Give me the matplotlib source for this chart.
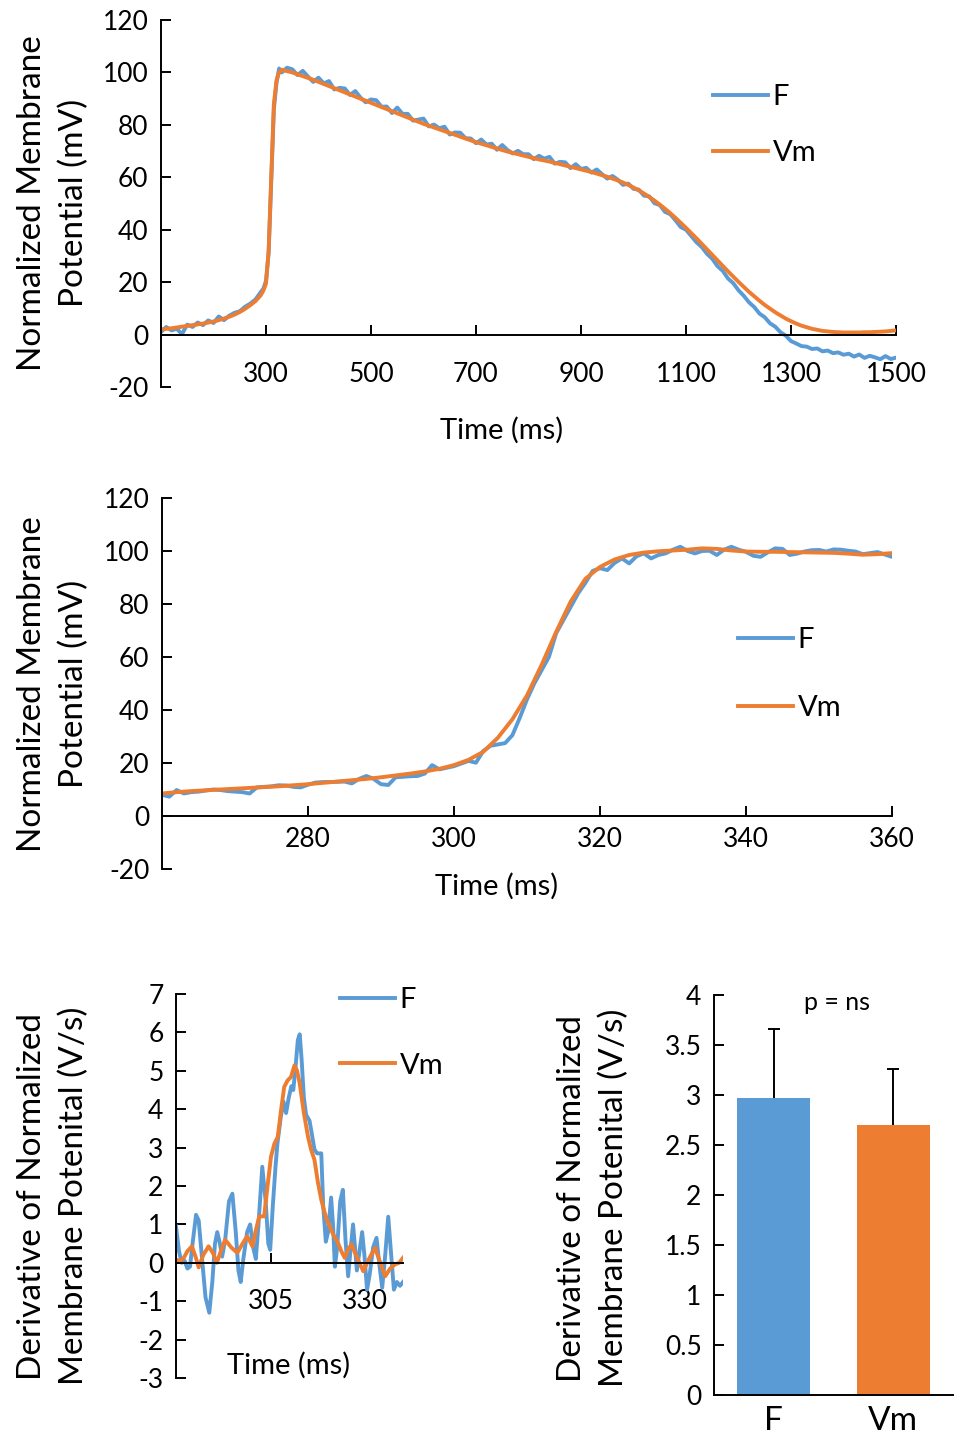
import matplotlib
matplotlib.use('Agg')
import matplotlib.pyplot as plt

plt.rcParams['font.family'] = ['Lato', 'DejaVu Sans']
plt.rcParams['axes.unicode_minus'] = False

BLUE = '#5B9BD5'
ORANGE = '#ED7D31'
FS_TICK = 19
FS_LAB = 21
FS_LEG = 21
FS_YLAB = 24
LW = 2.8

# ---------------- Panel A: full action potential ----------------
t_full = list(range(100, 300, 10)) + [295, 300, 305, 310, 315, 320, 325, 330, 340] + list(range(350, 1510, 10))

vm_full = [2.0, 2.2, 2.4, 2.7, 3.0, 3.3, 3.6, 3.9, 4.2, 4.6,
           5.0, 5.5, 6.1, 6.8, 7.6, 8.6, 9.8, 11.2, 12.8, 15.0,
           16.8, 19.5, 32, 60, 88, 97, 100, 101, 100.5,
           100.0, 99.3, 98.6, 97.9, 97.2, 96.4,
           95.6, 94.8, 94.0, 93.2, 92.4, 91.6, 90.8, 90.0, 89.2, 88.4,
           87.6, 86.8, 86.0, 85.2, 84.4, 83.6, 82.8, 82.0, 81.2, 80.4,
           79.7, 79.0, 78.3, 77.6, 76.9, 76.2, 75.5, 74.8, 74.1, 73.4,
           72.8, 72.2, 71.6, 71.0, 70.4, 69.8, 69.3, 68.8, 68.3, 67.8,
           67.3, 66.8, 66.4, 66.0, 65.5, 65.0, 64.5, 64.0, 63.5, 63.0,
           62.5, 62.0, 61.4, 60.8, 60.2, 59.5, 58.8, 58.0, 57.1, 56.1,
           55.0, 53.8, 52.5, 51.1, 49.6, 48.0, 46.3, 44.5, 42.6, 40.7,
           38.7, 36.7, 34.6, 32.5, 30.4, 28.3, 26.2, 24.1, 22.1, 20.1,
           18.2, 16.3, 14.6, 12.9, 11.3, 9.9, 8.5, 7.3, 6.1, 5.1,
           4.2, 3.4, 2.8, 2.2, 1.8, 1.4, 1.2, 1.0, 0.9, 0.8,
           0.8, 0.8, 0.8, 0.9, 0.9, 1.0, 1.1, 1.2, 1.4, 1.6]

f_full = [1.0, 2.9, 1.6, 2.2, 0.2, 3.8, 2.9, 4.6, 3.6, 5.4,
          4.4, 6.9, 5.5, 7.2, 8.3, 8.9, 10.6, 11.8, 13.4, 16.2,
          17.5, 20.5, 31, 58, 86, 96, 101.5, 100, 101.8,
          101.2, 99.0, 100.6, 98.4, 96.4, 98.0,
          95.8, 96.7, 93.5, 94.1, 93.9, 91.4, 92.9, 90.4, 88.6, 89.7,
          89.4, 86.9, 87.0, 84.5, 86.6, 84.2, 84.2, 81.6, 82.0, 82.4,
          79.4, 80.1, 78.7, 79.3, 76.3, 77.1, 77.0, 74.9, 74.8, 73.0,
          74.4, 72.5, 72.8, 70.5, 72.3, 70.4, 69.1, 70.1, 68.8, 68.8,
          66.9, 68.2, 67.1, 67.8, 65.2, 65.9, 65.7, 63.5, 65.0, 63.2,
          63.6, 61.8, 63.0, 61.2, 59.5, 60.5, 59.1, 57.1, 57.6, 55.6,
          55.3, 53.0, 52.7, 50.1, 49.4, 46.8, 45.9, 43.6, 41.0, 40.0,
          37.6, 35.2, 33.4, 30.8, 28.9, 26.1, 24.3, 21.4, 19.6, 16.9,
          14.8, 12.3, 10.5, 8.0, 6.6, 4.3, 3.0, 0.9, -0.4, -2.5,
          -3.4, -4.4, -4.6, -5.5, -5.3, -6.4, -6.1, -7.1, -6.8, -7.7,
          -7.3, -8.4, -7.6, -8.9, -8.1, -8.7, -9.4, -8.2, -9.3, -8.8]

xticks_full = [300, 500, 700, 900, 1100, 1300, 1500]
yticks_mv = [-20, 0, 20, 40, 60, 80, 100, 120]

# ---------------- Panel B: upstroke zoom ----------------
t_up_f = list(range(260, 361))
f_up = [8.0, 7.3, 9.8, 8.5, 9.0, 9.2, 9.6, 10.0, 9.8, 9.4,
        9.2, 9.0, 8.5, 10.8, 11.0, 11.2, 11.6, 11.5, 11.0, 10.8,
        11.8, 12.6, 12.8, 12.8, 12.9, 13.0, 12.3, 14.0, 15.1, 14.0,
        12.0, 11.7, 14.6, 14.8, 15.0, 15.1, 16.0, 19.2, 17.6, 18.2,
        18.8, 19.8, 20.8, 20.1, 24.5, 26.5, 27.0, 27.5, 30.5, 37,
        44, 50, 55, 60, 69, 74, 79, 84, 88, 92.5,
        93.5, 92.8, 95.5, 97.2, 95.3, 98, 99.1, 97.2, 98.5, 99.1,
        100.5, 101.6, 100, 99.1, 100, 100.1, 98.5, 100.5, 101.6, 100.5,
        99.7, 98.2, 97.8, 99.5, 101, 100.8, 98.5, 99, 99.8, 100.3,
        100.4, 99.8, 100.6, 100.5, 100.1, 99.8, 98.8, 99.2, 99.6, 98.7,
        97.8]
t_up_vm = list(range(260, 361, 2))
vm_up = [8.5, 9.0, 9.4, 9.7, 10.0, 10.3, 10.6, 10.9, 11.2, 11.6,
         12.0, 12.5, 13.0, 13.5, 14.0, 14.6, 15.3, 16.0, 16.8, 17.8,
         19.2, 21.2, 24.2, 29.5, 36.5, 45.5, 57, 69.5, 81, 89.5,
         94.0, 96.8, 98.5, 99.4, 99.9, 100.2, 100.5, 101.0, 100.8, 100.2,
         99.8, 99.7, 99.7, 99.6, 99.5, 99.4, 99.3, 99.0, 98.6, 98.8,
         99.2]
xticks_up = [280, 300, 320, 340, 360]

# ---------------- Panel C: derivative traces ----------------
t_df = [280.0, 280.8, 281.5, 282.3, 283.0, 283.7, 284.5, 285.3, 286.0, 286.8,
        287.8, 288.8, 289.6, 290.3, 290.9, 291.5, 292.2, 293.0, 294.0, 294.9,
        295.8, 296.5, 297.1, 297.8, 298.8, 299.6, 300.4, 301.1, 301.8, 302.8,
        303.7, 304.4, 304.9, 305.6, 306.3, 306.8, 307.7, 308.4, 309.1, 309.8,
        310.5, 311.0, 311.6, 312.2, 312.7, 313.2, 313.8, 314.4, 315.3, 316.0,
        316.6, 317.3, 318.4, 318.9, 319.6, 320.2, 321.0, 321.5, 322.0, 322.6,
        323.4, 324.1, 324.8, 325.5, 326.2, 326.8, 327.4, 327.8, 328.5, 329.2,
        329.8, 330.5, 331.2, 332.1, 333.0, 333.7, 334.5, 335.3, 336.1, 336.8,
        337.6, 338.4, 339.2, 340.0]
d_f = [0.95, 0.3, 0.0, 0.05, -0.15, -0.1, 0.6, 1.25, 1.1, 0.2,
       -0.9, -1.3, -0.5, 0.5, 0.8, 0.55, 0.16, 0.6, 1.6, 1.8,
       0.8, -0.2, -0.5, 0.1, 0.8, 1.0, 0.4, 0.1, 1.0, 2.5,
       1.6, 0.5, 0.34, 1.5, 2.5, 3.1, 3.8, 4.2, 3.9, 4.3,
       4.6, 4.5, 5.1, 5.8, 5.95, 5.3, 4.3, 3.85, 3.7, 3.3,
       2.95, 2.85, 2.85, 1.5, 0.55, 0.8, 1.7, 1.0, -0.1, 0.4,
       1.6, 1.9, 0.6, -0.35, 0.4, 1.0, 0.3, -0.2, 0.3, 0.8,
       0.2, -0.7, -0.3, 0.4, 0.65, 0.0, -0.65, 0.2, 1.2, 0.3,
       -0.7, -0.5, -0.6, -0.5]
t_dvm = [280.0, 281.0, 282.0, 283.0, 284.2, 285.2, 286.0, 287.2, 288.6, 289.8,
         290.8, 292.0, 293.0, 294.6, 296.2, 297.6, 298.8, 299.6, 300.2, 301.0,
         302.0, 303.3, 304.2, 305.1, 306.0, 306.9, 307.8, 308.6, 309.5, 310.4,
         311.3, 312.0, 312.7, 313.8, 314.9, 315.7, 316.6, 317.5, 318.4, 319.3,
         320.2, 321.5, 322.8, 323.7, 324.6, 325.5, 326.4, 328.0, 329.5, 331.0,
         332.6, 334.0, 335.3, 336.6, 337.9, 339.0, 340.0]
d_vm = [0.08, 0.05, 0.12, 0.3, 0.43, 0.15, -0.12, 0.2, 0.43, 0.25,
        0.0, 0.35, 0.6, 0.4, 0.26, 0.5, 0.69, 0.55, 0.43, 0.8,
        1.21, 1.21, 2.0, 2.76, 3.1, 3.28, 4.0, 4.58, 4.75, 4.84,
        5.14, 5.0, 4.67, 3.9, 3.28, 2.95, 2.68, 2.1, 1.64, 1.3,
        1.04, 0.75, 0.52, 0.3, 0.13, 0.35, 0.48, 0.1, -0.22, 0.1,
        0.39, 0.0, -0.35, -0.15, -0.04, 0.0, 0.13]
xticks_d = [305, 330]
yticks_d = [-3, -2, -1, 0, 1, 2, 3, 4, 5, 6, 7]

# ---------------- Panel D: bar chart ----------------
bar_labels = ['F', 'Vm']
bar_values = [2.97, 2.70]
bar_errors = [0.69, 0.56]
yticks_bar = [0, 0.5, 1, 1.5, 2, 2.5, 3, 3.5, 4]
yticklabels_bar = ['0', '0.5', '1', '1.5', '2', '2.5', '3', '3.5', '4']

W, H = 957, 1435
fig = plt.figure(figsize=(W / 100, H / 100), dpi=100)


def px_axes(left, top, right, bottom):
    return fig.add_axes([left / W, 1 - bottom / H, (right - left) / W, (bottom - top) / H])


def style(ax, xpad, ypad, zero_spine=True):
    for s in ['top', 'right']:
        ax.spines[s].set_visible(False)
    for s in ['left', 'bottom']:
        ax.spines[s].set_linewidth(1.4)
        ax.spines[s].set_color('black')
    if zero_spine:
        ax.spines['bottom'].set_position(('data', 0))
    ax.tick_params(axis='both', direction='in', length=7, width=1.4,
                   labelsize=FS_TICK, colors='black')
    ax.tick_params(axis='x', pad=xpad)
    ax.tick_params(axis='y', pad=ypad)


def ylabel2(x, y, text):
    fig.text(x / W, 1 - y / H, text, rotation=90, ha='center', va='center',
             multialignment='center', fontsize=FS_YLAB, linespacing=1.5)


def legend(ax, x, y, spacing):
    ax.legend(loc='upper left', bbox_to_anchor=(x, y), frameon=False,
              fontsize=FS_LEG, handlelength=1.9, handletextpad=0.14,
              labelspacing=spacing, borderpad=0, borderaxespad=0)


# Panel A
ax1 = px_axes(161, 20, 896, 387)
ax1.plot(t_full, f_full, color=BLUE, lw=LW, label='F')
ax1.plot(t_full, vm_full, color=ORANGE, lw=LW, label='Vm')
ax1.set_xlim(100, 1500)
ax1.set_ylim(-20, 120)
ax1.set_xticks(xticks_full)
ax1.set_yticks(yticks_mv)
style(ax1, 20, 9)
legend(ax1, (713 - 161) / 735, (387 - 84) / 367, 1.02)
ax1.text((502 - 161) / 735, (387 - 430) / 367, 'Time (ms)', transform=ax1.transAxes,
         ha='center', va='center', fontsize=FS_LAB)
ylabel2(53, 203, 'Normalized Membrane\nPotential (mV)')

# Panel B
ax2 = px_axes(162, 498, 892, 869)
ax2.plot(t_up_f, f_up, color=BLUE, lw=LW, label='F')
ax2.plot(t_up_vm, vm_up, color=ORANGE, lw=LW, label='Vm')
ax2.set_xlim(260, 360)
ax2.set_ylim(-20, 120)
ax2.set_xticks(xticks_up)
ax2.set_yticks(yticks_mv)
style(ax2, 8, 9)
legend(ax2, (738 - 162) / 730, (869 - 627) / 371, 1.43)
ax2.text((497 - 162) / 730, (869 - 886) / 371, 'Time (ms)', transform=ax2.transAxes,
         ha='center', va='center', fontsize=FS_LAB)
ylabel2(53, 684, 'Normalized Membrane\nPotential (mV)')

# Panel C
ax3 = px_axes(176, 994, 403, 1378)
ax3.plot(t_df, d_f, color=BLUE, lw=LW, label='F')
ax3.plot(t_dvm, d_vm, color=ORANGE, lw=LW, label='Vm')
ax3.set_xlim(280, 340)
ax3.set_ylim(-3, 7)
ax3.set_xticks(xticks_d)
ax3.set_yticks(yticks_d)
style(ax3, 19, 9)
legend(ax3, (340 - 176) / 227, (1378 - 987) / 384, 1.36)
ax3.text((289 - 176) / 227, (1378 - 1365) / 384, 'Time (ms)', transform=ax3.transAxes,
         ha='center', va='center', fontsize=FS_LAB)
ylabel2(53, 1196, 'Derivative of Normalized\nMembrane Potenital (V/s)')

# Panel D
ax4 = px_axes(714, 995, 953, 1395)
xpos = [0, 1]
ax4.bar(xpos, bar_values, width=0.61, color=[BLUE, ORANGE])
tops = [v + e for v, e in zip(bar_values, bar_errors)]
ax4.vlines(xpos, bar_values, tops, color='black', lw=1.4)
ax4.hlines(tops, [x - 0.05 for x in xpos], [x + 0.05 for x in xpos], color='black', lw=1.4)
ax4.set_xlim(-0.5, 1.5)
ax4.set_ylim(0, 4)
ax4.set_yticks(yticks_bar)
ax4.set_yticklabels(yticklabels_bar)
style(ax4, 8, 9, zero_spine=False)
ax4.set_xticks(xpos)
ax4.set_xticklabels(bar_labels, fontsize=24)
ax4.tick_params(axis='x', length=0)
ax4.text(0.53, 3.92, 'p = ns', ha='center', va='center', fontsize=18)
ylabel2(593, 1198, 'Derivative of Normalized\nMembrane Potenital (V/s)')

fig.savefig('out.png', dpi=100)
